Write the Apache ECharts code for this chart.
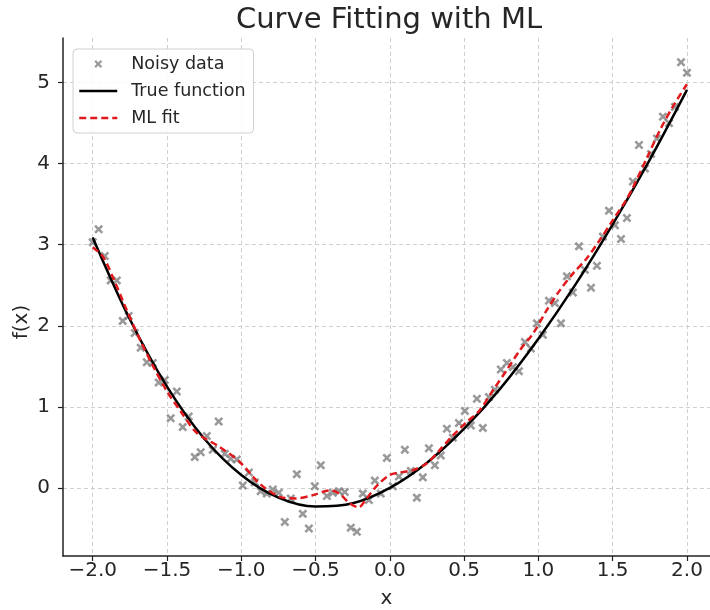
<!DOCTYPE html>
<html>
<head>
<meta charset="utf-8">
<script src="https://cdn.jsdelivr.net/npm/echarts/dist/echarts.min.js"></script>
<style>html,body{margin:0;padding:0;background:#fff;}#c{width:710px;height:610px;}</style>
</head>
<body>
<div id="c"></div>
<script>
const noisyX = [-2.000,-1.960,-1.919,-1.879,-1.838,-1.798,-1.758,-1.717,-1.677,-1.636,
-1.596,-1.556,-1.515,-1.475,-1.434,-1.394,-1.354,-1.313,-1.273,-1.232,
-1.192,-1.152,-1.111,-1.071,-1.030,-0.990,-0.949,-0.909,-0.869,-0.828,
-0.788,-0.747,-0.707,-0.667,-0.626,-0.586,-0.545,-0.505,-0.465,-0.424,
-0.384,-0.343,-0.303,-0.263,-0.222,-0.182,-0.141,-0.101,-0.061,-0.020,
0.020,0.061,0.101,0.141,0.182,0.222,0.263,0.303,0.343,0.384,
0.424,0.465,0.505,0.545,0.586,0.626,0.667,0.707,0.747,0.788,
0.828,0.869,0.909,0.949,0.990,1.030,1.071,1.111,1.152,1.192,
1.232,1.273,1.313,1.354,1.394,1.434,1.475,1.515,1.556,1.596,
1.636,1.677,1.717,1.758,1.798,1.838,1.879,1.919,1.960,2.000];
const noisyY = [3.03,3.19,2.86,2.56,2.56,2.06,2.12,1.91,1.73,1.55,
1.54,1.30,1.33,0.86,1.19,0.75,0.88,0.38,0.44,0.64,
0.47,0.82,0.42,0.36,0.35,0.03,0.19,0.07,-0.04,-0.07,
-0.02,-0.06,-0.42,-0.13,0.17,-0.32,-0.50,0.02,0.28,-0.10,
-0.06,-0.04,-0.05,-0.49,-0.54,-0.07,-0.15,0.09,-0.07,0.37,
0.02,0.14,0.47,0.21,-0.12,0.13,0.49,0.28,0.40,0.73,
0.62,0.80,0.95,0.77,1.10,0.74,1.12,1.21,1.46,1.54,
1.49,1.44,1.80,1.72,2.03,1.89,2.31,2.28,2.03,2.61,
2.41,2.98,2.69,2.47,2.74,3.10,3.42,3.24,3.07,3.33,
3.78,4.23,3.94,4.12,4.31,4.58,4.50,4.70,5.25,5.12];

const trueX = [-2.0,-1.75,-1.5,-1.25,-1.0,-0.75,-0.5,-0.25,0.0,0.25,0.5,0.75,1.0,1.25,1.5,1.75,2.0];
const trueY = [3.09,2.08,1.25,0.61,0.16,-0.12,-0.23,-0.19,0.0,0.31,0.73,1.24,1.84,2.51,3.25,4.05,4.91];

const fitX = [-2.0,-1.93,-1.86,-1.77,-1.68,-1.59,-1.50,-1.41,-1.30,-1.15,-1.01,-0.875,-0.74,-0.63,-0.52,-0.40,-0.34,-0.27,-0.21,-0.157,-0.08,0.0,0.067,0.157,0.247,0.337,0.426,0.516,0.606,0.696,0.786,0.876,0.966,1.055,1.145,1.235,1.325,1.414,1.50,1.59,1.64,1.73,1.82,1.91,2.0];
const fitY = [2.97,2.85,2.58,2.19,1.82,1.49,1.19,0.95,0.68,0.51,0.32,0.05,-0.11,-0.13,-0.09,-0.03,-0.07,-0.19,-0.24,-0.13,0.04,0.16,0.19,0.22,0.30,0.47,0.65,0.81,0.96,1.21,1.45,1.70,1.91,2.19,2.44,2.65,2.83,3.06,3.30,3.55,3.72,4.07,4.42,4.72,4.98];

const xTicks = [-2.0,-1.5,-1.0,-0.5,0.0,0.5,1.0,1.5,2.0];
const yTicks = [0,1,2,3,4,5];

const FONT = 'DejaVu Sans';
const crossPath = 'path://M0,2L2,0L5,3L8,0L10,2L7,5L10,8L8,10L5,7L2,10L0,8L3,5Z';
const crossLegend = 'path://M-4,-4L-4,-4ZM14,14L14,14ZM0,2L2,0L5,3L8,0L10,2L7,5L10,8L8,10L5,7L2,10L0,8L3,5Z';
const fmtX = v => (Math.abs(v) < 1e-9 ? '0.0' : v.toFixed(1)).replace('-', '\u2212');

const chart = echarts.init(document.getElementById('c'), null, {renderer: 'canvas'});
const gridLine = {show: true, lineStyle: {color: '#cfcfcf', type: [4, 3], width: 1}};
const hideSym = {opacity: 0, color: 'rgba(0,0,0,0)', borderWidth: 0};
chart.setOption({
  animation: false,
  backgroundColor: '#fff',
  title: {
    text: 'Curve Fitting with ML',
    left: 384, top: 1, textAlign: 'center',
    textStyle: {fontFamily: FONT, fontSize: 29, fontWeight: 'normal', color: '#262626'}
  },
  legend: {
    orient: 'vertical',
    left: 73, top: 49,
    padding: [5, 8, 5, 5],
    itemGap: 7,
    itemWidth: 38,
    itemHeight: 14,
    borderColor: '#d0d0d0', borderWidth: 1, borderRadius: 4,
    backgroundColor: 'rgba(255,255,255,0.85)',
    lineStyle: {width: 2.5},
    textStyle: {fontFamily: FONT, fontSize: 17.5, color: '#262626', lineHeight: 20, padding: [0, 0, 0, 9]},
    data: [
      {name: 'Noisy data', icon: crossLegend, itemStyle: {color: '#7f7f7f'}},
      {name: 'True function', itemStyle: hideSym},
      {name: 'ML fit', itemStyle: hideSym}
    ]
  },
  grid: {left: 63, right: 0, top: 38, bottom: 54, containLabel: false, outerBoundsMode: 'none'},
  xAxis: {
    type: 'value', min: -2.2, max: 2.155,
    name: 'x', nameLocation: 'middle', nameGap: 33, nameMoveOverlap: false,
    nameTextStyle: {fontFamily: FONT, fontSize: 20, color: '#262626'},
    axisLine: {show: true, onZero: false, lineStyle: {color: '#222', width: 1.5}},
    axisTick: {show: true, inside: false, length: 5, customValues: xTicks, lineStyle: {color: '#222', width: 1.2}},
    axisLabel: {customValues: xTicks, formatter: fmtX, margin: 5, fontFamily: FONT, fontSize: 20, color: '#262626'},
    splitLine: gridLine
  },
  yAxis: {
    type: 'value', min: -0.84, max: 5.55,
    name: 'f(x)', nameLocation: 'middle', nameGap: 31, nameRotate: 90, nameMoveOverlap: false,
    nameTextStyle: {fontFamily: FONT, fontSize: 20, color: '#262626', padding: [0, 50, 0, 0]},
    axisLine: {show: true, onZero: false, lineStyle: {color: '#222', width: 1.5}},
    axisTick: {show: true, inside: false, length: 5, customValues: yTicks, lineStyle: {color: '#222', width: 1.2}},
    axisLabel: {customValues: yTicks, formatter: v => String(v), margin: 13, fontFamily: FONT, fontSize: 20, color: '#262626'},
    splitLine: gridLine
  },
  series: [
    {
      name: 'Noisy data', type: 'scatter', z: 2,
      symbol: crossPath, symbolSize: 9,
      itemStyle: {color: '#7f7f7f'},
      data: noisyX.map((x, i) => [x, noisyY[i]])
    },
    {
      name: 'True function', type: 'line', z: 3,
      smooth: 0.35, symbol: 'none',
      lineStyle: {color: '#000', width: 2.5},
      itemStyle: {color: '#000'},
      data: trueX.map((x, i) => [x, trueY[i]])
    },
    {
      name: 'ML fit', type: 'line', z: 4,
      smooth: 0.3, symbol: 'none',
      lineStyle: {color: '#e0191c', width: 2.5, type: [7, 4]},
      itemStyle: {color: '#e0191c'},
      data: fitX.map((x, i) => [x, fitY[i]])
    }
  ]
});
</script>
</body>
</html>
